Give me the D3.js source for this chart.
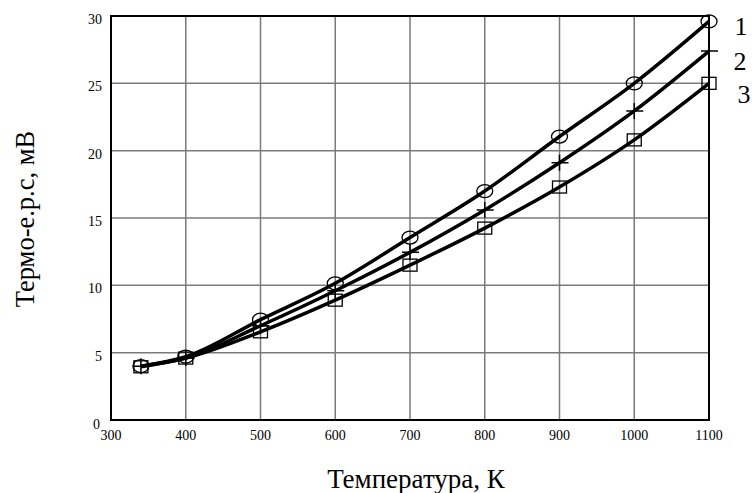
<!DOCTYPE html>
<html lang="ru">
	<head>
		<meta charset="utf-8">
		<title>Термо-е.р.с</title>
		<script type="text/javascript" src="https://cdn.jsdelivr.net/npm/d3@7"></script>
		<style type="text/css">
			body { margin: 0; background: #fff; }
			text { font-family: "Liberation Serif", "Times New Roman", "DejaVu Serif", serif; fill: #000; }
		</style>
	</head>
	<body>
		<script type="text/javascript">

			// Data
			var temps = [340, 400, 500, 600, 700, 800, 900, 1000, 1100];
			var series1 = [4.0, 4.7, 7.45, 10.15, 13.55, 17.0, 21.05, 25.0, 29.6];
			var series2 = [4.0, 4.6, 7.0, 9.6, 12.45, 15.6, 19.1, 22.95, 27.4];
			var series3 = [3.95, 4.6, 6.55, 8.9, 11.5, 14.25, 17.3, 20.8, 25.0];
			var seriesNames = ["1", "2", "3"];
			var xTicks = [300, 400, 500, 600, 700, 800, 900, 1000, 1100];
			var yTicks = [0, 5, 10, 15, 20, 25, 30];

			var w = 752;
			var h = 493;
			var plotL = 111, plotR = 709, plotT = 16, plotB = 420;

			var xScale = d3.scaleLinear().domain([300, 1100]).range([plotL, plotR]);
			var yScale = d3.scaleLinear().domain([0, 30]).range([plotB, plotT]);

			var svg = d3.select("body")
						.append("svg")
						.attr("width", w)
						.attr("height", h);

			// grid
			svg.append("g")
				.selectAll("line")
				.data(xTicks.slice(1, -1))
				.enter()
				.append("line")
				.attr("x1", function(d) { return xScale(d); })
				.attr("x2", function(d) { return xScale(d); })
				.attr("y1", plotT)
				.attr("y2", plotB)
				.attr("stroke", "#7a7a7a")
				.attr("stroke-width", 1.5);

			svg.append("g")
				.selectAll("line")
				.data(yTicks.slice(1, -1))
				.enter()
				.append("line")
				.attr("y1", function(d) { return yScale(d); })
				.attr("y2", function(d) { return yScale(d); })
				.attr("x1", plotL)
				.attr("x2", plotR)
				.attr("stroke", "#7a7a7a")
				.attr("stroke-width", 1.5);

			// frame
			svg.append("rect")
				.attr("x", plotL)
				.attr("y", plotT)
				.attr("width", plotR - plotL)
				.attr("height", plotB - plotT)
				.attr("fill", "none")
				.attr("stroke", "#000")
				.attr("stroke-width", 2);

			// tick labels
			svg.append("g")
				.selectAll("text")
				.data(xTicks)
				.enter()
				.append("text")
				.attr("x", function(d) { return xScale(d); })
				.attr("y", 440)
				.attr("text-anchor", "middle")
				.attr("font-size", "14px")
				.text(function(d) { return d; });

			svg.append("g")
				.selectAll("text")
				.data(yTicks)
				.enter()
				.append("text")
				.attr("x", function(d) { return d === 0 ? 100 : 102; })
				.attr("y", function(d) { return yScale(d) + (d === 0 ? 9 : 8); })
				.attr("text-anchor", "end")
				.attr("font-size", "14px")
				.text(function(d) { return d; });

			// axis titles
			svg.append("text")
				.attr("x", 416)
				.attr("y", 488)
				.attr("text-anchor", "middle")
				.attr("font-size", "27px")
				.text("Температура, К");

			svg.append("text")
				.attr("transform", "translate(34," + 219 + ") rotate(-90)")
				.attr("text-anchor", "middle")
				.attr("font-size", "26.5px")
				.text("Термо-е.р.с, мВ");

			// lines
			var allSeries = [series1, series2, series3];
			var line = d3.line()
				.x(function(d, i) { return xScale(temps[i]); })
				.y(function(d) { return yScale(d); })
				.curve(d3.curveMonotoneX);

			svg.append("g")
				.selectAll("path")
				.data(allSeries)
				.enter()
				.append("path")
				.attr("d", line)
				.attr("fill", "none")
				.attr("stroke", "#000")
				.attr("stroke-width", 3.5);

			// markers
			var m1 = svg.append("g");
			m1.selectAll("ellipse")
				.data(series1)
				.enter()
				.append("ellipse")
				.attr("cx", function(d, i) { return xScale(temps[i]); })
				.attr("cy", function(d) { return yScale(d); })
				.attr("rx", 8)
				.attr("ry", 6.5)
				.attr("fill", "none")
				.attr("stroke", "#000")
				.attr("stroke-width", 1.3);

			var m2 = svg.append("g");
			m2.selectAll("path")
				.data(series2)
				.enter()
				.append("path")
				.attr("d", function(d, i) {
					var x = xScale(temps[i]), y = yScale(d);
					return "M" + (x - 8) + "," + y + "H" + (x + 9) + "M" + x + "," + (y - 8) + "V" + (y + 8);
				})
				.attr("fill", "none")
				.attr("stroke", "#000")
				.attr("stroke-width", 1.5);

			var m3 = svg.append("g");
			m3.selectAll("rect")
				.data(series3)
				.enter()
				.append("rect")
				.attr("x", function(d, i) { return xScale(temps[i]) - 7; })
				.attr("y", function(d) { return yScale(d) - 6; })
				.attr("width", 14)
				.attr("height", 12)
				.attr("fill", "none")
				.attr("stroke", "#000")
				.attr("stroke-width", 1.3);

			// series numbers
			svg.append("g")
				.selectAll("text")
				.data(seriesNames)
				.enter()
				.append("text")
				.attr("x", function(d, i) { return [741, 740, 744][i]; })
				.attr("y", function(d, i) { return [35, 70, 103][i]; })
				.attr("text-anchor", "middle")
				.attr("font-size", "26px")
				.text(function(d) { return d; });

		</script>
	</body>
</html>
